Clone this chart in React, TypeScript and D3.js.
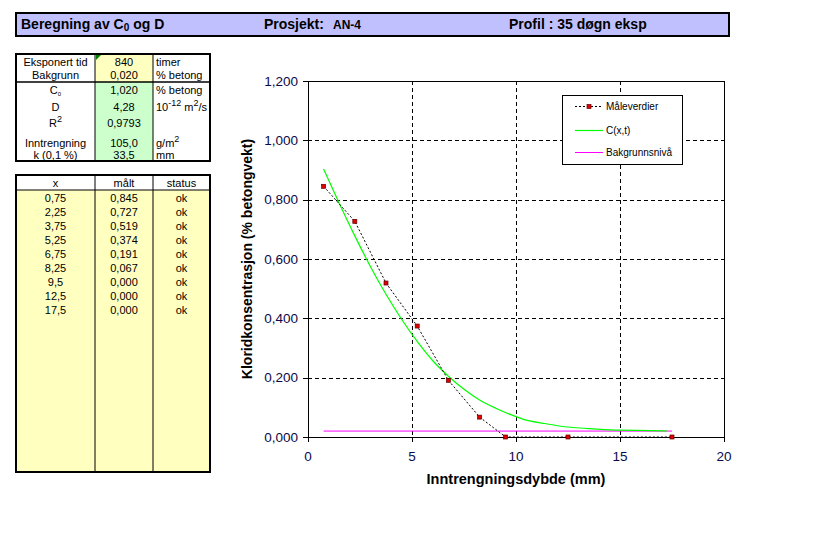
import React from "react";
import * as d3 from "d3";

// ---- data ----
const measuredX = [0.75, 2.25, 3.75, 5.25, 6.75, 8.25, 9.5, 12.5, 17.5];
const measuredY = [0.845, 0.727, 0.519, 0.374, 0.191, 0.067, 0.0, 0.0, 0.0];
const measuredXLabels = ["0,75", "2,25", "3,75", "5,25", "6,75", "8,25", "9,5", "12,5", "17,5"];
const measuredYLabels = ["0,845", "0,727", "0,519", "0,374", "0,191", "0,067", "0,000", "0,000", "0,000"];
const statusLabels = ["ok", "ok", "ok", "ok", "ok", "ok", "ok", "ok", "ok"];

const curveX = [0.75, 1.5, 2.25, 3.0, 3.75, 4.5, 5.25, 6.0, 6.75, 7.5, 8.25, 9.0, 9.75, 10.5, 11.25, 12.0, 12.75, 13.5, 14.25, 15.0, 15.75, 16.5, 17.25];
const curveY = [0.903, 0.788, 0.678, 0.575, 0.481, 0.397, 0.322, 0.257, 0.205, 0.161, 0.125, 0.098, 0.0755, 0.057, 0.047, 0.038, 0.032, 0.028, 0.025, 0.0232, 0.022, 0.0212, 0.0207];

const backgroundX = [0.75, 17.5];
const backgroundY = [0.02, 0.02];

const xTicks = [0, 5, 10, 15, 20];
const yTicks = [0, 0.2, 0.4, 0.6, 0.8, 1.0, 1.2];

const legendLabels = ["Måleverdier", "C(x,t)", "Bakgrunnsnivå"];

// ---- layout ----
const W = 821;
const H = 543;
const plot = { left: 308, right: 724, top: 81, bottom: 437 };

const tableFont = "Arial, 'Liberation Sans', sans-serif";
const YELLOW = "#FFFFC0";
const GREEN = "#CCFFCC";

export default function App() {
  const x = d3.scaleLinear().domain([0, 20]).range([plot.left, plot.right]);
  const y = d3.scaleLinear().domain([0, 1.2]).range([plot.bottom, plot.top]);
  const fmtY = (v: number) => d3.format(".3f")(v).replace(".", ",");

  const lineGen = d3
    .line<[number, number]>()
    .x((d) => x(d[0]))
    .y((d) => y(d[1]));
  const smoothGen = d3
    .line<[number, number]>()
    .x((d) => x(d[0]))
    .y((d) => y(d[1]))
    .curve(d3.curveMonotoneX);

  const measPts: [number, number][] = measuredX.map((v, i) => [v, measuredY[i]]);
  const curvePts: [number, number][] = curveX.map((v, i) => [v, curveY[i]]);
  const bgPts: [number, number][] = backgroundX.map((v, i) => [v, backgroundY[i]]);

  const tickColor = "#0a0a4a";

  const topRows: { y: number; c1: React.ReactNode; c2: string; c3: React.ReactNode }[] = [
    { y: 62, c1: "Eksponert tid", c2: "840", c3: "timer" },
    { y: 75, c1: "Bakgrunn", c2: "0,020", c3: "% betong" },
    {
      y: 90,
      c1: (
        <>
          C<tspan fontSize={6} dy={2}>0</tspan>
        </>
      ),
      c2: "1,020",
      c3: "% betong",
    },
    {
      y: 107,
      c1: "D",
      c2: "4,28",
      c3: (
        <>
          10<tspan fontSize={9} dy={-5}>-12</tspan>
          <tspan dy={5}> m</tspan>
          <tspan fontSize={9} dy={-5}>2</tspan>
          <tspan dy={5}>/s</tspan>
        </>
      ),
    },
    {
      y: 123,
      c1: (
        <>
          R<tspan fontSize={9} dy={-5}>2</tspan>
        </>
      ),
      c2: "0,9793",
      c3: "",
    },
    {
      y: 143,
      c1: "Inntrengning",
      c2: "105,0",
      c3: (
        <>
          g/m<tspan fontSize={9} dy={-5}>2</tspan>
        </>
      ),
    },
    { y: 155, c1: "k (0,1 %)", c2: "33,5", c3: "mm" },
  ];

  const t1 = { left: 16, right: 210, top: 54, bottom: 161, c1: 95, c2: 153, sep: 82 };
  const t2 = { left: 16, right: 210, top: 175, bottom: 472, c1: 95, c2: 153, head: 190 };

  return (
    <svg
      width={W}
      height={H}
      style={{ position: "absolute", left: 0, top: 0, background: "#fff" }}
      fontFamily={tableFont}
    >
      {/* header bar */}
      <rect x={16} y={13} width={713} height={23} fill="#C0C0FF" stroke="#000" strokeWidth={2} />
      <text x={21} y={29} fontSize={14} fontWeight="bold">
        Beregning av C<tspan fontSize={10} dy={2}>0</tspan>
        <tspan dy={-2}> og D</tspan>
      </text>
      <text x={264} y={29} fontSize={14} fontWeight="bold">
        Prosjekt:
      </text>
      <text x={333} y={29} fontSize={12} fontWeight="bold">
        AN-4
      </text>
      <text x={509} y={29} fontSize={14} fontWeight="bold">
        Profil :  35 døgn eksp
      </text>

      {/* top table */}
      <rect x={t1.c1} y={t1.top} width={t1.c2 - t1.c1} height={t1.sep - t1.top} fill={YELLOW} />
      <rect x={t1.c1} y={t1.sep} width={t1.c2 - t1.c1} height={t1.bottom - t1.sep} fill={GREEN} />
      <path d={`M${t1.c1 + 1},${t1.top + 1} l5,0 l-5,5 z`} fill="#008000" />
      <line x1={t1.c1} x2={t1.c1} y1={t1.top} y2={t1.bottom} stroke="#000" strokeWidth={1} />
      <line x1={t1.c2} x2={t1.c2} y1={t1.top} y2={t1.bottom} stroke="#000" strokeWidth={1} />
      <line x1={t1.left} x2={t1.right} y1={t1.sep} y2={t1.sep} stroke="#000" strokeWidth={1.5} />
      <rect
        x={t1.left}
        y={t1.top}
        width={t1.right - t1.left}
        height={t1.bottom - t1.top}
        fill="none"
        stroke="#000"
        strokeWidth={2}
      />
      {topRows.map((r, i) => (
        <g key={i} fontSize={11}>
          <text x={(t1.left + t1.c1) / 2} y={r.y} dy="0.35em" textAnchor="middle">
            {r.c1}
          </text>
          <text x={(t1.c1 + t1.c2) / 2} y={r.y} dy="0.35em" textAnchor="middle">
            {r.c2}
          </text>
          <text x={t1.c2 + 3} y={r.y} dy="0.35em" textAnchor="start">
            {r.c3}
          </text>
        </g>
      ))}

      {/* measurement table */}
      <rect x={t2.left} y={t2.head} width={t2.right - t2.left} height={t2.bottom - t2.head} fill={YELLOW} />
      <line x1={t2.c1} x2={t2.c1} y1={t2.top} y2={t2.bottom} stroke="#000" strokeWidth={1} />
      <line x1={t2.c2} x2={t2.c2} y1={t2.top} y2={t2.bottom} stroke="#000" strokeWidth={1} />
      <line x1={t2.left} x2={t2.right} y1={t2.head} y2={t2.head} stroke="#000" strokeWidth={1} />
      <rect
        x={t2.left}
        y={t2.top}
        width={t2.right - t2.left}
        height={t2.bottom - t2.top}
        fill="none"
        stroke="#000"
        strokeWidth={2}
      />
      <g fontSize={11}>
        <text x={(t2.left + t2.c1) / 2} y={183} dy="0.35em" textAnchor="middle">x</text>
        <text x={(t2.c1 + t2.c2) / 2} y={183} dy="0.35em" textAnchor="middle">målt</text>
        <text x={(t2.c2 + t2.right) / 2} y={183} dy="0.35em" textAnchor="middle">status</text>
        {measuredXLabels.map((lab, i) => (
          <g key={i}>
            <text x={(t2.left + t2.c1) / 2} y={198 + i * 14} dy="0.35em" textAnchor="middle">
              {lab}
            </text>
            <text x={(t2.c1 + t2.c2) / 2} y={198 + i * 14} dy="0.35em" textAnchor="middle">
              {measuredYLabels[i]}
            </text>
            <text x={(t2.c2 + t2.right) / 2} y={198 + i * 14} dy="0.35em" textAnchor="middle">
              {statusLabels[i]}
            </text>
          </g>
        ))}
      </g>

      {/* chart gridlines */}
      <g stroke="#000" strokeWidth={1} strokeDasharray="4,3">
        {yTicks
          .filter((t) => t > 0 && t < 1.2)
          .map((t) => (
            <line key={t} x1={plot.left} x2={plot.right} y1={Math.round(y(t)) + 0.5} y2={Math.round(y(t)) + 0.5} />
          ))}
        {xTicks
          .filter((t) => t > 0 && t < 20)
          .map((t) => (
            <line key={t} x1={Math.round(x(t)) + 0.5} x2={Math.round(x(t)) + 0.5} y1={plot.top} y2={plot.bottom} />
          ))}
      </g>

      {/* series */}
      <path d={lineGen(bgPts) || ""} fill="none" stroke="#FF00FF" strokeWidth={1} />
      <path d={smoothGen(curvePts) || ""} fill="none" stroke="#00FF00" strokeWidth={1.2} />
      <path d={lineGen(measPts) || ""} fill="none" stroke="#000" strokeWidth={1} strokeDasharray="2,2" />

      {/* plot frame */}
      <rect
        x={plot.left + 0.5}
        y={plot.top + 0.5}
        width={plot.right - plot.left}
        height={plot.bottom - plot.top}
        fill="none"
        stroke="#000"
        strokeWidth={1}
      />

      {measPts.map((p, i) => (
        <rect
          key={i}
          x={x(p[0]) - 2}
          y={y(p[1]) - 2}
          width={4}
          height={4}
          fill="#E00000"
          stroke="#600000"
          strokeWidth={0.7}
        />
      ))}

      {/* axes ticks */}
      <g stroke="#000" strokeWidth={1}>
        {yTicks.map((t) => (
          <line key={t} x1={plot.left - 5} x2={plot.left} y1={Math.round(y(t)) + 0.5} y2={Math.round(y(t)) + 0.5} />
        ))}
        {xTicks.map((t) => (
          <line key={t} x1={Math.round(x(t)) + 0.5} x2={Math.round(x(t)) + 0.5} y1={plot.bottom} y2={plot.bottom + 5} />
        ))}
      </g>
      <g fontSize={13.5} fill={tickColor} fontFamily={tableFont}>
        {yTicks.map((t) => (
          <text key={t} x={plot.left - 10} y={y(t)} dy="0.35em" textAnchor="end">
            {fmtY(t)}
          </text>
        ))}
        {xTicks.map((t) => (
          <text key={t} x={x(t)} y={456} dy="0.35em" textAnchor="middle">
            {t}
          </text>
        ))}
      </g>

      {/* axis titles */}
      <text x={516} y={479} dy="0.35em" textAnchor="middle" fontSize={14.5} fontWeight="bold">
        Inntrengningsdybde (mm)
      </text>
      <text
        transform={`translate(247,${(plot.top + plot.bottom) / 2}) rotate(-90)`}
        dy="0.35em"
        textAnchor="middle"
        fontSize={14}
        fontWeight="bold"
      >
        Kloridkonsentrasjon (% betongvekt)
      </text>

      {/* legend */}
      <rect x={562.5} y={95.5} width={120} height={69} fill="#fff" stroke="#000" strokeWidth={1} />
      <g>
        <line x1={575} x2={603} y1={106.5} y2={106.5} stroke="#000" strokeDasharray="2,2" />
        <rect x={587} y={104.5} width={4} height={4} fill="#E00000" stroke="#600000" strokeWidth={0.7} />
        <line x1={575} x2={603} y1={130.5} y2={130.5} stroke="#00FF00" strokeWidth={1.2} />
        <line x1={575} x2={603} y1={152.5} y2={152.5} stroke="#FF00FF" strokeWidth={1} />
        {legendLabels.map((lab, i) => (
          <text key={lab} x={606} y={[106, 130, 152][i]} dy="0.35em" fontSize={10} fill="#000">
            {lab}
          </text>
        ))}
      </g>
    </svg>
  );
}
